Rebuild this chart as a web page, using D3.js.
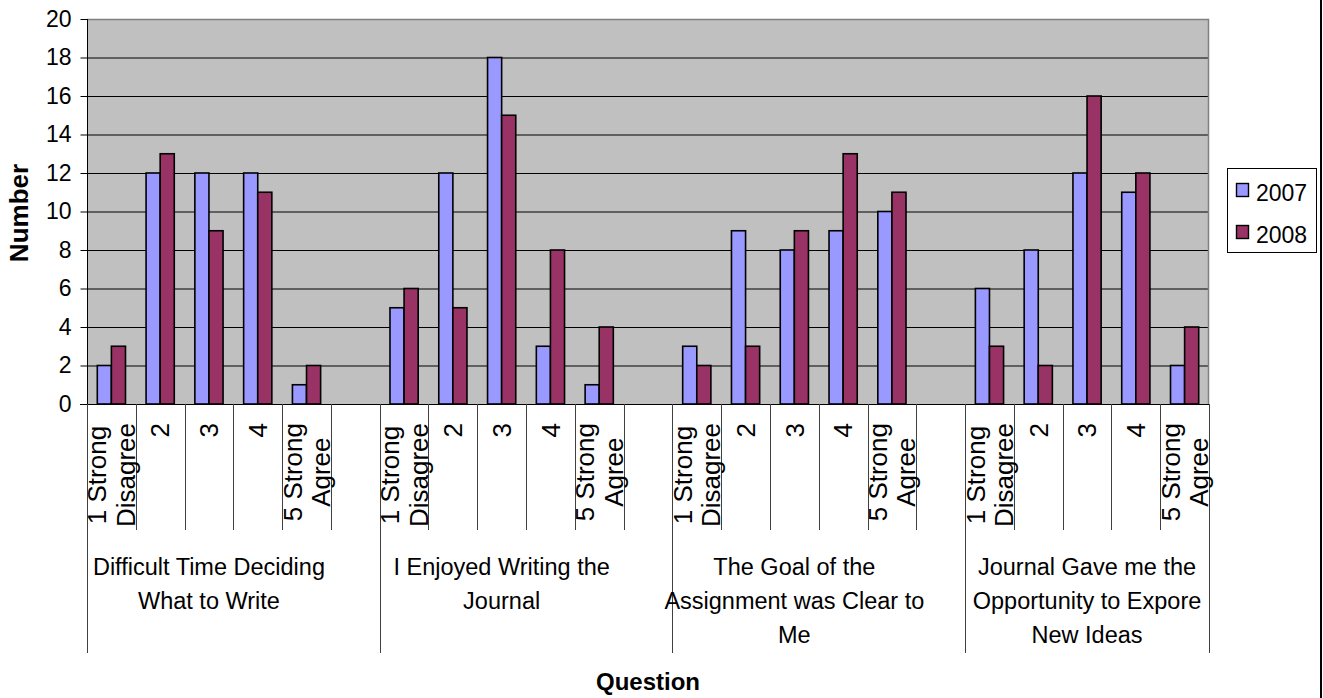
<!DOCTYPE html>
<html>
<head>
<meta charset="utf-8">
<script src="https://cdn.jsdelivr.net/npm/d3@7"></script>
<style>
  html, body { margin: 0; padding: 0; background: #fff; }
  svg { display: block; font-family: "Liberation Sans", Arial, sans-serif; }
</style>
</head>
<body>
<svg id="chart" width="1323" height="698"></svg>
<script>
// ---- data ----
const questions = [
  ["Difficult Time Deciding", "What to Write"],
  ["I Enjoyed Writing the", "Journal"],
  ["The Goal of the", "Assignment was Clear to", "Me"],
  ["Journal Gave me the", "Opportunity to Expore", "New Ideas"]
];
const answers = [["1 Strong", "Disagree"], ["2"], ["3"], ["4"], ["5 Strong", "Agree"]];
const seriesNames = ["2007", "2008"];
const values2007 = [2, 12, 12, 12, 1,  5, 12, 18, 3, 1,  3, 9, 8, 9, 10,  6, 8, 12, 11, 2];
const values2008 = [3, 13, 9, 11, 2,  6, 5, 15, 8, 4,  2, 3, 9, 13, 11,  3, 2, 16, 12, 4];
const yTicks = [0, 2, 4, 6, 8, 10, 12, 14, 16, 18, 20];
const colors = ["#9999FF", "#993366"];

// ---- layout ----
const L = 87, R = 1209, T = 19, B = 404;
const slotsPerGroup = answers.length + 1;
const nSlots = questions.length * slotsPerGroup - 1; // last group has no blank slot

const svg = d3.select("#chart");

const x0 = d3.scaleBand().domain(d3.range(nSlots)).range([L, R]).padding(0);
const x1 = d3.scaleBand().domain(seriesNames).range([0, x0.bandwidth()]).paddingInner(0).paddingOuter(0.73);
const y = d3.scaleLinear().domain([0, 20]).range([B, T]);

// records
const records = [];
questions.forEach((q, g) => {
  answers.forEach((a, i) => {
    const k = g * answers.length + i;
    records.push({ g, i, slot: g * slotsPerGroup + i, label: a, v: [values2007[k], values2008[k]] });
  });
});

// plot background
svg.append("rect").attr("x", L).attr("y", T).attr("width", R - L).attr("height", B - T)
  .attr("fill", "#C0C0C0");

// gridlines
svg.append("g").selectAll("line").data(yTicks.filter(d => d > 0)).join("line")
  .attr("x1", L).attr("x2", R).attr("y1", d => y(d) + 0.5).attr("y2", d => y(d) + 0.5)
  .attr("stroke", "#000").attr("stroke-width", 1);

// plot border (top/right gray)
svg.append("path").attr("d", `M${L},${T + 0.5}H${R - 0.5}V${B}`)
  .attr("fill", "none").attr("stroke", "#808080").attr("stroke-width", 1.5);

// bars
const barG = svg.append("g");
records.forEach(r => {
  seriesNames.forEach((s, si) => {
    barG.append("rect")
      .attr("x", x0(r.slot) + x1(s))
      .attr("y", y(r.v[si]))
      .attr("width", x1.bandwidth())
      .attr("height", B - y(r.v[si]))
      .attr("fill", colors[si])
      .attr("stroke", "#000")
      .attr("stroke-width", 1.6);
  });
});

// y axis
const yAxis = d3.axisLeft(y).tickValues(yTicks).tickSize(7).tickPadding(9).tickFormat(d3.format("d"));
const yg = svg.append("g").attr("transform", `translate(${L + 0.5},0)`).call(yAxis);
yg.select(".domain").attr("stroke", "#000").attr("d", `M0,${T}V${B}`);
yg.selectAll(".tick line").attr("stroke", "#000");
yg.selectAll(".tick text").attr("font-size", 23).attr("fill", "#000")
  .attr("font-family", "Liberation Sans, Arial, sans-serif");

// x axis line
svg.append("line").attr("x1", L - 7).attr("x2", R).attr("y1", B + 0.5).attr("y2", B + 0.5)
  .attr("stroke", "#000");

// inner ticks (slot boundaries) and group separators
const boundaries = d3.range(nSlots + 1);
const sepColor = "#404040";
svg.append("g").selectAll("line").data(boundaries).join("line")
  .attr("x1", d => Math.round(L + d * x0.step()) + 0.5)
  .attr("x2", d => Math.round(L + d * x0.step()) + 0.5)
  .attr("y1", B)
  .attr("y2", d => (d % slotsPerGroup === 0 || d === nSlots) ? 653 : 530)
  .attr("stroke", sepColor).attr("stroke-width", 1);

// answer labels (rotated)
const fsRot = 26, lineGap = 28.5, capH = 0.716 * fsRot;
const ansG = svg.append("g");
records.forEach(r => {
  const cx = x0(r.slot) + x0.bandwidth() / 2;
  const n = r.label.length;
  const texts = r.label.map((line, li) => {
    const off = (li - (n - 1) / 2) * lineGap;
    return ansG.append("text")
      .attr("font-size", fsRot).attr("fill", "#000")
      .attr("text-anchor", "middle")
      .datum({ baseX: cx + off + capH / 2 })
      .text(line);
  });
  const maxLen = d3.max(texts, t => t.node().getComputedTextLength());
  const cy = 423 + maxLen / 2;
  texts.forEach(t => t.attr("transform", `translate(${t.datum().baseX},${cy}) rotate(-90)`));
});

// question labels
const qG = svg.append("g");
questions.forEach((q, g) => {
  const start = L + g * slotsPerGroup * x0.step();
  const end = Math.min(R, L + (g * slotsPerGroup + answers.length) * x0.step());
  const cx = (start + end) / 2;
  q.forEach((line, li) => {
    qG.append("text").attr("x", cx).attr("y", 575 + li * 34)
      .attr("text-anchor", "middle").attr("font-size", 23.5).attr("fill", "#000").text(line);
  });
});

// axis titles
svg.append("text").attr("x", (L + R) / 2).attr("y", 690).attr("text-anchor", "middle")
  .attr("font-size", 24).attr("font-weight", "bold").text("Question");
svg.append("text").attr("transform", `translate(28,213) rotate(-90)`).attr("text-anchor", "middle")
  .attr("font-size", 26).attr("font-weight", "bold").text("Number");

// legend
const lg = svg.append("g");
lg.append("rect").attr("x", 1227.5).attr("y", 168.5).attr("width", 89).attr("height", 84)
  .attr("fill", "#fff").attr("stroke", "#000");
seriesNames.forEach((s, i) => {
  const yy = 183 + i * 42;
  lg.append("rect").attr("x", 1236.5).attr("y", yy + 0.5).attr("width", 12).attr("height", 13)
    .attr("fill", colors[i]).attr("stroke", "#000").attr("stroke-width", 1.4);
  lg.append("text").attr("x", 1256).attr("y", yy + 18).attr("font-size", 23).attr("fill", "#000").text(s);
});

// outer right border
svg.append("line").attr("x1", 1321).attr("x2", 1321).attr("y1", 0).attr("y2", 698)
  .attr("stroke", "#000").attr("stroke-width", 2);
</script>
</body>
</html>
